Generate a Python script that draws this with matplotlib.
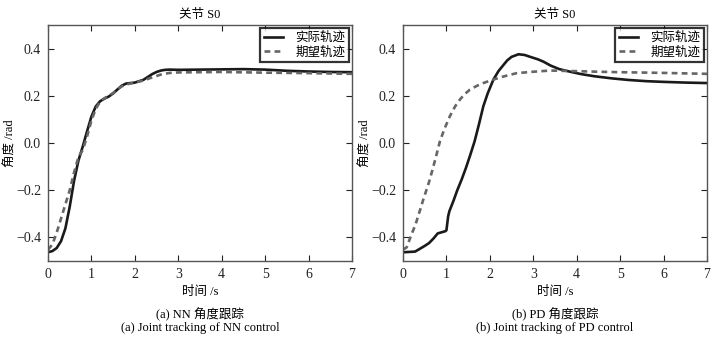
import numpy as np
import matplotlib.pyplot as plt

plt.rcParams['font.family'] = ['Liberation Serif', 'Noto Sans CJK SC']
plt.rcParams['axes.unicode_minus'] = True

# NN control: actual / desired joint angle (rad)
t_nn_act = [0, 0.1, 0.2, 0.3, 0.4, 0.5, 0.6, 0.7, 0.8, 0.9, 1.0, 1.1, 1.2, 1.3,
            1.4, 1.5, 1.6, 1.7, 1.8, 1.9, 2.0, 2.1, 2.2, 2.3, 2.4, 2.5, 2.6, 2.7,
            2.8, 3.0, 3.5, 4.0, 4.5, 5.0, 5.5, 6.0, 6.5, 7.0]
y_nn_act = [-0.463, -0.458, -0.445, -0.416, -0.362, -0.27, -0.16, -0.075, -0.015,
            0.05, 0.112, 0.155, 0.177, 0.188, 0.197, 0.21, 0.227, 0.243, 0.252,
            0.254, 0.256, 0.262, 0.268, 0.28, 0.292, 0.301, 0.307, 0.31, 0.311,
            0.31, 0.311, 0.312, 0.313, 0.311, 0.306, 0.303, 0.301, 0.300]
t_nn_des = [0, 0.1, 0.2, 0.3, 0.4, 0.5, 0.6, 0.7, 0.8, 0.9, 1.0, 1.1, 1.2, 1.3,
            1.4, 1.5, 1.6, 1.7, 1.8, 2.0, 2.2, 2.4, 2.6, 2.8, 3.0, 3.5, 4.0, 5.0,
            6.0, 7.0]
y_nn_des = [-0.452, -0.43, -0.38, -0.32, -0.26, -0.2, -0.125, -0.06, -0.03, 0.028,
            0.095, 0.145, 0.175, 0.19, 0.2, 0.212, 0.228, 0.24, 0.248, 0.256,
            0.265, 0.278, 0.29, 0.297, 0.299, 0.3, 0.301, 0.298, 0.296, 0.293]

# PD control: actual / desired joint angle (rad)
t_pd_act = [0, 0.1, 0.2, 0.28, 0.4, 0.5, 0.6, 0.7, 0.8, 0.97, 1.0, 1.04, 1.07,
            1.16, 1.25, 1.35, 1.45, 1.55, 1.65, 1.75, 1.85, 1.95, 2.08, 2.2, 2.31,
            2.4, 2.5, 2.66, 2.8, 2.93, 3.1, 3.23, 3.4, 3.6, 3.85, 4.1, 4.4, 4.8,
            5.2, 5.6, 6.0, 6.5, 7.0]
y_pd_act = [-0.463, -0.462, -0.461, -0.46, -0.447, -0.436, -0.424, -0.405, -0.383,
            -0.374, -0.37, -0.31, -0.288, -0.246, -0.2, -0.155, -0.105, -0.05,
            0.008, 0.08, 0.156, 0.21, 0.268, 0.305, 0.33, 0.35, 0.365, 0.376,
            0.373, 0.365, 0.355, 0.345, 0.328, 0.313, 0.302, 0.292, 0.283, 0.274,
            0.267, 0.262, 0.259, 0.256, 0.254]
t_pd_des = [0, 0.085, 0.2, 0.28, 0.4, 0.47, 0.6, 0.66, 0.75, 0.85, 0.95, 1.08,
            1.2, 1.31, 1.42, 1.54, 1.7, 1.85, 2.0, 2.24, 2.4, 2.62, 3.0, 3.39,
            3.85, 4.5, 5.0, 6.0, 7.0]
y_pd_des = [-0.452, -0.442, -0.385, -0.35, -0.28, -0.238, -0.165, -0.126, -0.065,
            0.007, 0.058, 0.114, 0.155, 0.184, 0.207, 0.226, 0.242, 0.254, 0.264,
            0.278, 0.286, 0.296, 0.302, 0.307, 0.305, 0.302, 0.3, 0.297, 0.293]

panels = [
    (t_nn_act, y_nn_act, t_nn_des, y_nn_des,
     '(a) NN 角度跟踪', '(a) Joint tracking of NN control'),
    (t_pd_act, y_pd_act, t_pd_des, y_pd_des,
     '(b) PD 角度跟踪', '(b) Joint tracking of PD control'),
]

fig = plt.figure(figsize=(7.13, 3.39), dpi=100)
lefts = [48 / 713, 403 / 713]

for left, (ta, ya, td, yd, cap_cn, cap_en) in zip(lefts, panels):
    ax = fig.add_axes([left, 78 / 339, 304 / 713, 236 / 339])
    ax.plot(ta, ya, color='#1a1a1a', lw=1.9, label='实际轨迹')
    ax.plot(td, yd, color='#666666', lw=1.9, ls=(0, (2.2, 1.6)), label='期望轨迹')
    ax.set_xlim(0, 7)
    ax.set_ylim(-0.5, 0.5)
    ax.set_xticks(np.arange(0, 8, 1))
    ax.set_yticks([-0.4, -0.2, 0.0, 0.2, 0.4])
    ax.set_yticklabels(['\u22120.4', '\u22120.2', '0.0', '0.2', '0.4'])
    ax.tick_params(direction='in', length=4, width=0.8, top=True, right=True,
                   labelsize=10, pad=5, colors='#222222')
    for sp in ax.spines.values():
        sp.set_color('#555555')
        sp.set_linewidth(1.0)
    ax.set_title('关节 S0', fontsize=9, pad=5)
    ax.set_xlabel('时间 /s', fontsize=9, labelpad=4)
    ax.set_ylabel('角度 /rad', fontsize=9)
    ax.yaxis.set_label_coords(-0.102, 0.5)
    leg = ax.legend(loc='upper right', fontsize=9, frameon=True, fancybox=False,
                    handlelength=1.5, borderaxespad=0.25, borderpad=0.3,
                    labelspacing=0.15, handletextpad=1.0)
    leg.get_frame().set_edgecolor('black')
    leg.get_frame().set_linewidth(1.6)
    cx = left + 152 / 713
    fig.text(cx, 1 - 314 / 339, cap_cn, ha='center', va='center', fontsize=9)
    fig.text(cx, 1 - 328 / 339, cap_en, ha='center', va='center', fontsize=9)

fig.savefig('out.png', dpi=100)
